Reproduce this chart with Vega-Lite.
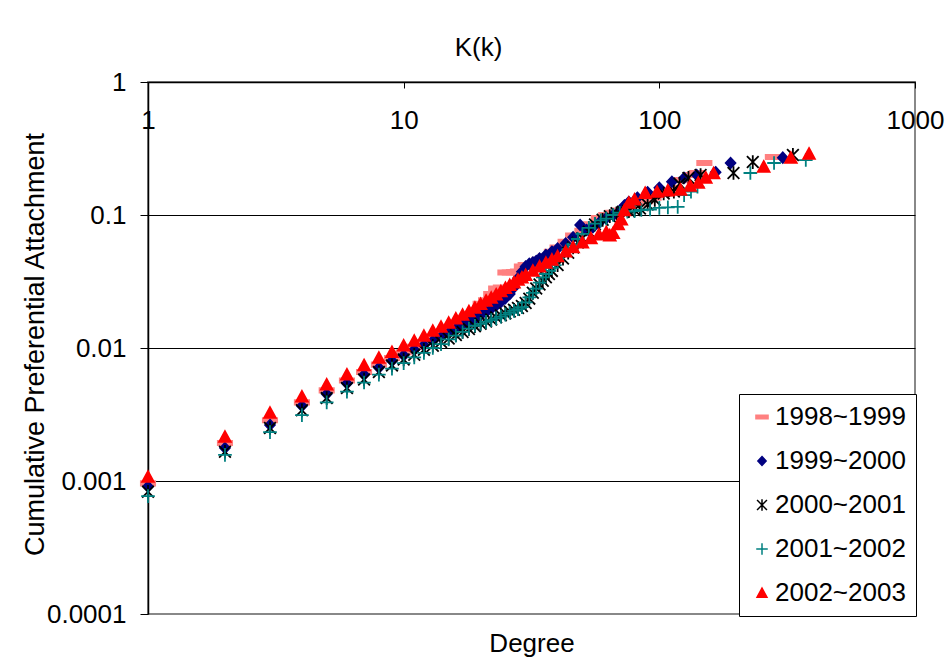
{
"$schema":"https://vega.github.io/schema/vega-lite/v6.json",
"width":767,"height":532,
"autosize":{"type":"none"},
"padding":{"left":148,"top":82,"right":33,"bottom":51},
"background":"white",
"config":{"view":{"stroke":"#888888","strokeWidth":2},"font":"Liberation Sans"},
"title":{"text":"K(k)","fontSize":26,"fontWeight":"normal","color":"black","font":"Liberation Sans","anchor":"middle","dx":-53,"dy":-4},
"datasets":{"d":[
{"s":"1998~1999","k":1,"v":0.00096},{"s":"1998~1999","k":2,"v":0.00193},{"s":"1998~1999","k":3,"v":0.00286},{"s":"1998~1999","k":4,"v":0.0039},{"s":"1998~1999","k":5,"v":0.0048},{"s":"1998~1999","k":6,"v":0.0057},{"s":"1998~1999","k":7,"v":0.0066},{"s":"1998~1999","k":8,"v":0.0075},{"s":"1998~1999","k":9,"v":0.0084},{"s":"1998~1999","k":10,"v":0.0093},{"s":"1998~1999","k":11,"v":0.0102},{"s":"1998~1999","k":12,"v":0.0111},{"s":"1998~1999","k":13,"v":0.012},{"s":"1998~1999","k":14,"v":0.0129},{"s":"1998~1999","k":15,"v":0.0139},{"s":"1998~1999","k":16,"v":0.0149},{"s":"1998~1999","k":17,"v":0.016},{"s":"1998~1999","k":18,"v":0.0171},{"s":"1998~1999","k":19,"v":0.019},{"s":"1998~1999","k":20,"v":0.0215},{"s":"1998~1999","k":21,"v":0.0228},{"s":"1998~1999","k":22,"v":0.0255},{"s":"1998~1999","k":23,"v":0.028},{"s":"1998~1999","k":24,"v":0.0285},{"s":"1998~1999","k":25,"v":0.037},{"s":"1998~1999","k":26,"v":0.037},{"s":"1998~1999","k":27,"v":0.0372},{"s":"1998~1999","k":28,"v":0.0375},{"s":"1998~1999","k":29,"v":0.041},{"s":"1998~1999","k":30,"v":0.042},{"s":"1998~1999","k":32,"v":0.043},{"s":"1998~1999","k":34,"v":0.046},{"s":"1998~1999","k":36,"v":0.049},{"s":"1998~1999","k":38,"v":0.053},{"s":"1998~1999","k":40,"v":0.057},{"s":"1998~1999","k":43,"v":0.063},{"s":"1998~1999","k":46,"v":0.07},{"s":"1998~1999","k":50,"v":0.076},{"s":"1998~1999","k":54,"v":0.085},{"s":"1998~1999","k":58,"v":0.095},{"s":"1998~1999","k":62,"v":0.1},{"s":"1998~1999","k":66,"v":0.104},{"s":"1998~1999","k":70,"v":0.108},{"s":"1998~1999","k":76,"v":0.115},{"s":"1998~1999","k":82,"v":0.122},{"s":"1998~1999","k":88,"v":0.127},{"s":"1998~1999","k":95,"v":0.135},{"s":"1998~1999","k":105,"v":0.145},{"s":"1998~1999","k":115,"v":0.16},{"s":"1998~1999","k":121,"v":0.183},{"s":"1998~1999","k":133,"v":0.2},{"s":"1998~1999","k":140,"v":0.207},{"s":"1998~1999","k":150,"v":0.246},{"s":"1998~1999","k":278,"v":0.273},
{"s":"1999~2000","k":1,"v":0.00091},{"s":"1999~2000","k":2,"v":0.00177},{"s":"1999~2000","k":3,"v":0.00264},{"s":"1999~2000","k":4,"v":0.00366},{"s":"1999~2000","k":5,"v":0.0045},{"s":"1999~2000","k":6,"v":0.0054},{"s":"1999~2000","k":7,"v":0.0063},{"s":"1999~2000","k":8,"v":0.0071},{"s":"1999~2000","k":9,"v":0.008},{"s":"1999~2000","k":10,"v":0.0088},{"s":"1999~2000","k":11,"v":0.0097},{"s":"1999~2000","k":12,"v":0.0105},{"s":"1999~2000","k":13,"v":0.0113},{"s":"1999~2000","k":14,"v":0.0121},{"s":"1999~2000","k":15,"v":0.013},{"s":"1999~2000","k":16,"v":0.0139},{"s":"1999~2000","k":17,"v":0.0148},{"s":"1999~2000","k":18,"v":0.0157},{"s":"1999~2000","k":19,"v":0.0166},{"s":"1999~2000","k":20,"v":0.0176},{"s":"1999~2000","k":21,"v":0.0186},{"s":"1999~2000","k":22,"v":0.0197},{"s":"1999~2000","k":23,"v":0.0209},{"s":"1999~2000","k":24,"v":0.0222},{"s":"1999~2000","k":25,"v":0.0237},{"s":"1999~2000","k":26,"v":0.0255},{"s":"1999~2000","k":27,"v":0.0285},{"s":"1999~2000","k":28,"v":0.0335},{"s":"1999~2000","k":29,"v":0.0375},{"s":"1999~2000","k":30,"v":0.041},{"s":"1999~2000","k":31,"v":0.043},{"s":"1999~2000","k":32,"v":0.044},{"s":"1999~2000","k":33,"v":0.045},{"s":"1999~2000","k":34,"v":0.047},{"s":"1999~2000","k":36,"v":0.05},{"s":"1999~2000","k":38,"v":0.053},{"s":"1999~2000","k":40,"v":0.056},{"s":"1999~2000","k":43,"v":0.061},{"s":"1999~2000","k":46,"v":0.068},{"s":"1999~2000","k":49,"v":0.084},{"s":"1999~2000","k":52,"v":0.077},{"s":"1999~2000","k":55,"v":0.081},{"s":"1999~2000","k":58,"v":0.087},{"s":"1999~2000","k":62,"v":0.095},{"s":"1999~2000","k":66,"v":0.1},{"s":"1999~2000","k":70,"v":0.107},{"s":"1999~2000","k":73,"v":0.118},{"s":"1999~2000","k":76,"v":0.125},{"s":"1999~2000","k":82,"v":0.135},{"s":"1999~2000","k":90,"v":0.148},{"s":"1999~2000","k":100,"v":0.16},{"s":"1999~2000","k":112,"v":0.178},{"s":"1999~2000","k":125,"v":0.19},{"s":"1999~2000","k":140,"v":0.2},{"s":"1999~2000","k":166,"v":0.21},{"s":"1999~2000","k":190,"v":0.246},{"s":"1999~2000","k":304,"v":0.27},
{"s":"2000~2001","k":1,"v":0.00083},{"s":"2000~2001","k":2,"v":0.00166},{"s":"2000~2001","k":3,"v":0.0025},{"s":"2000~2001","k":4,"v":0.0034},{"s":"2000~2001","k":5,"v":0.0042},{"s":"2000~2001","k":6,"v":0.005},{"s":"2000~2001","k":7,"v":0.0058},{"s":"2000~2001","k":8,"v":0.0066},{"s":"2000~2001","k":9,"v":0.0074},{"s":"2000~2001","k":10,"v":0.0082},{"s":"2000~2001","k":11,"v":0.0089},{"s":"2000~2001","k":12,"v":0.0097},{"s":"2000~2001","k":13,"v":0.0104},{"s":"2000~2001","k":14,"v":0.0111},{"s":"2000~2001","k":15,"v":0.0118},{"s":"2000~2001","k":16,"v":0.0125},{"s":"2000~2001","k":17,"v":0.0132},{"s":"2000~2001","k":18,"v":0.0139},{"s":"2000~2001","k":19,"v":0.0146},{"s":"2000~2001","k":20,"v":0.0152},{"s":"2000~2001","k":21,"v":0.0158},{"s":"2000~2001","k":22,"v":0.0164},{"s":"2000~2001","k":23,"v":0.017},{"s":"2000~2001","k":24,"v":0.0176},{"s":"2000~2001","k":25,"v":0.0182},{"s":"2000~2001","k":26,"v":0.0188},{"s":"2000~2001","k":27,"v":0.0194},{"s":"2000~2001","k":28,"v":0.02},{"s":"2000~2001","k":29,"v":0.0207},{"s":"2000~2001","k":30,"v":0.0218},{"s":"2000~2001","k":31,"v":0.0235},{"s":"2000~2001","k":32,"v":0.026},{"s":"2000~2001","k":33,"v":0.028},{"s":"2000~2001","k":34,"v":0.03},{"s":"2000~2001","k":35,"v":0.032},{"s":"2000~2001","k":36,"v":0.034},{"s":"2000~2001","k":37,"v":0.036},{"s":"2000~2001","k":38,"v":0.038},{"s":"2000~2001","k":40,"v":0.042},{"s":"2000~2001","k":42,"v":0.047},{"s":"2000~2001","k":44,"v":0.052},{"s":"2000~2001","k":46,"v":0.057},{"s":"2000~2001","k":48,"v":0.062},{"s":"2000~2001","k":50,"v":0.067},{"s":"2000~2001","k":53,"v":0.075},{"s":"2000~2001","k":56,"v":0.085},{"s":"2000~2001","k":60,"v":0.092},{"s":"2000~2001","k":64,"v":0.098},{"s":"2000~2001","k":68,"v":0.103},{"s":"2000~2001","k":72,"v":0.106},{"s":"2000~2001","k":76,"v":0.107},{"s":"2000~2001","k":80,"v":0.109},{"s":"2000~2001","k":84,"v":0.112},{"s":"2000~2001","k":90,"v":0.12},{"s":"2000~2001","k":96,"v":0.13},{"s":"2000~2001","k":104,"v":0.145},{"s":"2000~2001","k":114,"v":0.15},{"s":"2000~2001","k":120,"v":0.172},{"s":"2000~2001","k":130,"v":0.19},{"s":"2000~2001","k":145,"v":0.2},{"s":"2000~2001","k":195,"v":0.207},{"s":"2000~2001","k":232,"v":0.25},{"s":"2000~2001","k":333,"v":0.283},
{"s":"2001~2002","k":1,"v":0.00077},{"s":"2001~2002","k":2,"v":0.00157},{"s":"2001~2002","k":3,"v":0.00233},{"s":"2001~2002","k":4,"v":0.00313},{"s":"2001~2002","k":5,"v":0.0039},{"s":"2001~2002","k":6,"v":0.0047},{"s":"2001~2002","k":7,"v":0.0055},{"s":"2001~2002","k":8,"v":0.0063},{"s":"2001~2002","k":9,"v":0.007},{"s":"2001~2002","k":10,"v":0.0077},{"s":"2001~2002","k":11,"v":0.0085},{"s":"2001~2002","k":12,"v":0.0092},{"s":"2001~2002","k":13,"v":0.01},{"s":"2001~2002","k":14,"v":0.0107},{"s":"2001~2002","k":15,"v":0.0116},{"s":"2001~2002","k":16,"v":0.0124},{"s":"2001~2002","k":17,"v":0.0132},{"s":"2001~2002","k":18,"v":0.014},{"s":"2001~2002","k":19,"v":0.0147},{"s":"2001~2002","k":20,"v":0.0152},{"s":"2001~2002","k":21,"v":0.0157},{"s":"2001~2002","k":22,"v":0.0162},{"s":"2001~2002","k":23,"v":0.0167},{"s":"2001~2002","k":24,"v":0.0172},{"s":"2001~2002","k":25,"v":0.0178},{"s":"2001~2002","k":26,"v":0.0184},{"s":"2001~2002","k":27,"v":0.019},{"s":"2001~2002","k":28,"v":0.0196},{"s":"2001~2002","k":29,"v":0.0203},{"s":"2001~2002","k":30,"v":0.022},{"s":"2001~2002","k":31,"v":0.024},{"s":"2001~2002","k":32,"v":0.026},{"s":"2001~2002","k":33,"v":0.028},{"s":"2001~2002","k":34,"v":0.031},{"s":"2001~2002","k":35,"v":0.034},{"s":"2001~2002","k":36,"v":0.036},{"s":"2001~2002","k":37,"v":0.038},{"s":"2001~2002","k":38,"v":0.04},{"s":"2001~2002","k":39,"v":0.042},{"s":"2001~2002","k":40,"v":0.045},{"s":"2001~2002","k":42,"v":0.05},{"s":"2001~2002","k":44,"v":0.055},{"s":"2001~2002","k":46,"v":0.06},{"s":"2001~2002","k":48,"v":0.066},{"s":"2001~2002","k":50,"v":0.072},{"s":"2001~2002","k":53,"v":0.08},{"s":"2001~2002","k":56,"v":0.086},{"s":"2001~2002","k":59,"v":0.091},{"s":"2001~2002","k":62,"v":0.094},{"s":"2001~2002","k":66,"v":0.1},{"s":"2001~2002","k":70,"v":0.104},{"s":"2001~2002","k":75,"v":0.106},{"s":"2001~2002","k":80,"v":0.107},{"s":"2001~2002","k":85,"v":0.109},{"s":"2001~2002","k":92,"v":0.11},{"s":"2001~2002","k":100,"v":0.113},{"s":"2001~2002","k":108,"v":0.114},{"s":"2001~2002","k":118,"v":0.115},{"s":"2001~2002","k":125,"v":0.141},{"s":"2001~2002","k":133,"v":0.15},{"s":"2001~2002","k":141,"v":0.163},{"s":"2001~2002","k":227,"v":0.207},{"s":"2001~2002","k":281,"v":0.246},{"s":"2001~2002","k":374,"v":0.259},
{"s":"2002~2003","k":1,"v":0.00107},{"s":"2002~2003","k":2,"v":0.00214},{"s":"2002~2003","k":3,"v":0.00324},{"s":"2002~2003","k":4,"v":0.0043},{"s":"2002~2003","k":5,"v":0.0053},{"s":"2002~2003","k":6,"v":0.0063},{"s":"2002~2003","k":7,"v":0.0074},{"s":"2002~2003","k":8,"v":0.0084},{"s":"2002~2003","k":9,"v":0.0093},{"s":"2002~2003","k":10,"v":0.0104},{"s":"2002~2003","k":11,"v":0.0113},{"s":"2002~2003","k":12,"v":0.0123},{"s":"2002~2003","k":13,"v":0.0134},{"s":"2002~2003","k":14,"v":0.0144},{"s":"2002~2003","k":15,"v":0.0154},{"s":"2002~2003","k":16,"v":0.0166},{"s":"2002~2003","k":17,"v":0.0177},{"s":"2002~2003","k":18,"v":0.0188},{"s":"2002~2003","k":19,"v":0.02},{"s":"2002~2003","k":20,"v":0.0213},{"s":"2002~2003","k":21,"v":0.0226},{"s":"2002~2003","k":22,"v":0.0238},{"s":"2002~2003","k":23,"v":0.0252},{"s":"2002~2003","k":24,"v":0.0266},{"s":"2002~2003","k":25,"v":0.0282},{"s":"2002~2003","k":26,"v":0.0296},{"s":"2002~2003","k":27,"v":0.031},{"s":"2002~2003","k":28,"v":0.0325},{"s":"2002~2003","k":29,"v":0.0338},{"s":"2002~2003","k":30,"v":0.0352},{"s":"2002~2003","k":32,"v":0.038},{"s":"2002~2003","k":34,"v":0.0408},{"s":"2002~2003","k":36,"v":0.0435},{"s":"2002~2003","k":38,"v":0.046},{"s":"2002~2003","k":40,"v":0.0487},{"s":"2002~2003","k":43,"v":0.053},{"s":"2002~2003","k":46,"v":0.057},{"s":"2002~2003","k":50,"v":0.062},{"s":"2002~2003","k":54,"v":0.0665},{"s":"2002~2003","k":58,"v":0.071},{"s":"2002~2003","k":62,"v":0.074},{"s":"2002~2003","k":64,"v":0.07},{"s":"2002~2003","k":66,"v":0.073},{"s":"2002~2003","k":69,"v":0.085},{"s":"2002~2003","k":71,"v":0.092},{"s":"2002~2003","k":73,"v":0.108},{"s":"2002~2003","k":76,"v":0.123},{"s":"2002~2003","k":80,"v":0.13},{"s":"2002~2003","k":88,"v":0.146},{"s":"2002~2003","k":98,"v":0.149},{"s":"2002~2003","k":108,"v":0.152},{"s":"2002~2003","k":121,"v":0.154},{"s":"2002~2003","k":132,"v":0.165},{"s":"2002~2003","k":142,"v":0.174},{"s":"2002~2003","k":152,"v":0.19},{"s":"2002~2003","k":163,"v":0.205},{"s":"2002~2003","k":256,"v":0.23},{"s":"2002~2003","k":327,"v":0.268},{"s":"2002~2003","k":385,"v":0.288}
]},
"data":{"name":"d"},
"layer":[
{"mark":{"type":"point","filled":true,"opacity":1,"size":169,"strokeWidth":1.8},
 "encoding":{
  "x":{"field":"k","type":"quantitative","scale":{"type":"log","domain":[1,1000],"nice":false},
   "axis":{"orient":"top","values":[1,10,100,1000],"format":"d","title":null,"labelFontSize":26,"labelColor":"black","labelFlush":false,"labelBaseline":"middle","labelPadding":-32,"tickSize":-6,"tickColor":"black","domainColor":"black","domainWidth":1.5,"grid":false,"labelOverlap":false,"labelBound":false}},
  "y":{"field":"v","type":"quantitative","scale":{"type":"log","domain":[0.0001,1],"nice":false},
   "axis":{"values":[0.0001,0.001,0.01,0.1,1],"format":"~g","title":"Cumulative Preferential Attachment","titleFontSize":27,"titleFontWeight":"normal","titleColor":"black","titleX":-113,"titleY":262,"titleBaseline":"middle","titleAngle":-90,"titleAlign":"center","labelFontSize":26,"labelColor":"black","labelPadding":14,"tickSize":8,"tickColor":"black","domainColor":"black","domainWidth":1.5,"grid":true,"gridColor":{"condition":{"test":"datum.value <= 0.0001","value":"#888888"},"value":"black"},"gridOpacity":1,"labelOverlap":false,"labelBound":false,"labelFlush":false}},
  "shape":{"field":"s","type":"nominal","scale":{"domain":["1998~1999","1999~2000","2000~2001","2001~2002","2002~2003"],"range":["M-1.1,-0.33L1.1,-0.33L1.1,0.33L-1.1,0.33Z","M0,-0.8L0.75,0L0,0.8L-0.75,0Z","M-0.9,-0.9L0.9,0.9M-0.9,0.9L0.9,-0.9M0,-1.05L0,1.05","M-1.05,0L1.05,0M0,-1.05L0,1.05","M0,-0.9L0.9,0.75L-0.9,0.75Z"]},
   "legend":{"orient":"none","legendX":591,"legendY":312,"title":null,"labelFontSize":26,"labelColor":"black","labelFont":"Liberation Sans","symbolSize":121,"strokeColor":"black","fillColor":"white","padding":10,"rowPadding":18,"labelOffset":0,"symbolStrokeWidth":1.5,"labelLimit":300}},
  "fill":{"field":"s","type":"nominal","scale":{"domain":["1998~1999","1999~2000","2000~2001","2001~2002","2002~2003"],"range":["#FF8080","#000080","transparent","transparent","#FF0000"]}},
  "stroke":{"field":"s","type":"nominal","scale":{"domain":["1998~1999","1999~2000","2000~2001","2001~2002","2002~2003"],"range":["#FF8080","#000080","#000000","#008080","#FF0000"]}}
 }},
{"mark":{"type":"point","opacity":0},
 "encoding":{
  "x":{"field":"k","type":"quantitative","axis":{"orient":"bottom","title":"Degree","labels":false,"ticks":false,"domain":false,"grid":false,"titleFontSize":26,"titleFontWeight":"normal","titleColor":"black","titlePadding":16}}
 }}
],
"resolve":{"axis":{"x":"independent"}}
}
